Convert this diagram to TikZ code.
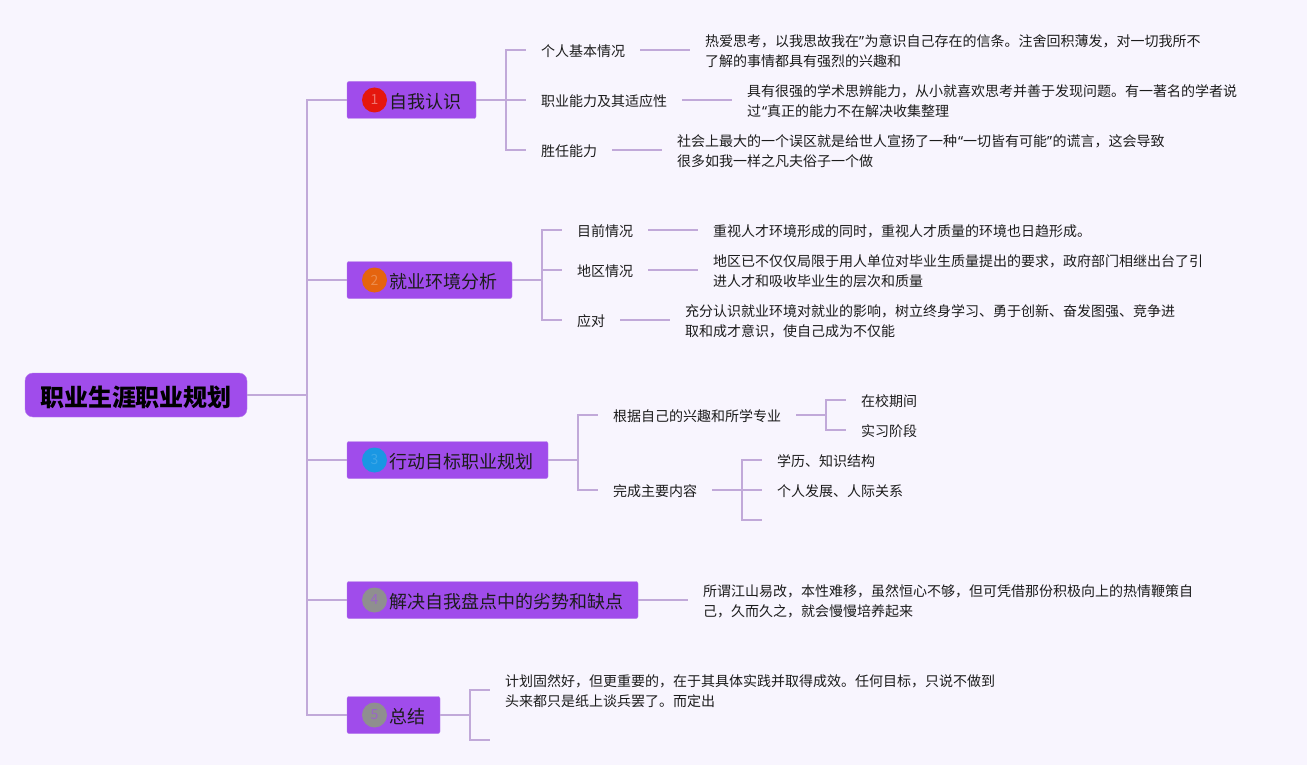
\documentclass[tikz,border=0pt]{standalone}
\usepackage{fontspec}
\setmainfont{Noto Sans CJK SC}
\newfontfamily\quotefont{Noto Sans}
\usetikzlibrary{positioning}

\definecolor{pagebg}{HTML}{F8F5FE}
\definecolor{boxfill}{HTML}{A04CEB}
\definecolor{boxedge}{HTML}{B67CEC}
\definecolor{linkcol}{HTML}{C1A9D9}
\definecolor{inkcol}{HTML}{1C1C1C}
\definecolor{badgered}{HTML}{E5170E}
\definecolor{badgeorange}{HTML}{E5640F}
\definecolor{badgeblue}{HTML}{1A97E3}
\definecolor{badgegray}{HTML}{8F8F8F}

\newcommand{\qopen}{{\kern1pt\quotefont “}}
\newcommand{\qclose}{{\quotefont ”\kern0.5pt}}

\begin{document}
\begin{tikzpicture}[x=1pt,y=-1pt,outer sep=0pt,node distance=50pt,
                    root/.style={rectangle, rounded corners=8pt, fill=boxfill, draw=boxedge, text=black, font=\fontsize{24}{28}\selectfont\bfseries, minimum width=222pt, minimum height=44pt, execute at begin node={\rule{0pt}{24.5pt}}},
                    branch/.style={rectangle, rounded corners=2pt, fill=boxfill, draw=boxedge, text=inkcol, anchor=west, font=\fontsize{18}{22}\selectfont, minimum height=37pt, inner xsep=15pt, execute at begin node={\rule{0pt}{18pt}}},
                    badge/.style={circle, minimum size=25pt, inner sep=0pt, font=\fontsize{14}{16}\selectfont},
                    item/.style={rectangle, text=inkcol, font=\fontsize{14}{20}\selectfont, inner xsep=15pt, inner ysep=0pt, execute at begin node={\rule{0pt}{14.5pt}}},
                    note/.style={rectangle, text=inkcol, font=\fontsize{14}{20}\selectfont, inner xsep=15pt, inner ysep=0pt, align=left, yshift=-1pt},
                    link/.style={draw=linkcol, line width=1.5pt}]
  % Background
  \fill[pagebg] (0,0) rectangle (1307,765);

  % Nodes
  \node[root] (plan) at (136,395) {职业生涯职业规划};
  \node[branch] (self) at (347,100) {\hspace*{27pt}自我认识};
  \node[branch] (env) at (347,280) {\hspace*{27pt}就业环境分析};
  \node[branch] (goal) at (347,460) {\hspace*{27pt}行动目标职业规划};
  \node[branch] (weak) at (347,600) {\hspace*{27pt}解决自我盘点中的劣势和缺点};
  \node[branch] (summary) at (347,715) {\hspace*{27pt}总结};

  \node[badge, fill=badgered, text=badgered!60!white] (one) at ([xshift=27.5pt]self.west) {1};
  \node[badge, fill=badgeorange, text=badgeorange!75!white] (two) at ([xshift=27.5pt]env.west) {2};
  \node[badge, fill=badgeblue, text=badgeblue!85!white] (three) at ([xshift=27.5pt]goal.west) {3};
  \node[badge, fill=badgegray, text=boxfill!60!badgegray] (four) at ([xshift=27.5pt]weak.west) {4};
  \node[badge, fill=badgegray, text=boxfill!60!badgegray] (five) at ([xshift=27.5pt]summary.west) {5};

  % First branch
  \node[item, right=50pt of self, yshift=50pt] (basic) {个人基本情况};
  \node[item, right=50pt of self] (skill) {职业能力及其适应性};
  \node[item, right=50pt of self, yshift=-50pt] (fit) {胜任能力};
  \node[note, right=50pt of basic] (basicnote) {热爱思考，以我思故我在\qclose 为意识自己存在的信条。注舍回积薄发，对一切我所不\\了解的事情都具有强烈的兴趣和};
  \node[note, right=50pt of skill] (skillnote) {具有很强的学术思辨能力，从小就喜欢思考并善于发现问题。有一著名的学者说\\过\qopen 真正的能力不在解决收集整理};
  \node[note, right=50pt of fit] (fitnote) {社会上最大的一个误区就是给世人宣扬了一种\qopen 一切皆有可能\qclose 的谎言，这会导致\\很多如我一样之凡夫俗子一个做};

  % Second branch
  \node[item, right=50pt of env, yshift=50pt] (now) {目前情况};
  \node[item, right=50pt of env, yshift=10pt] (area) {地区情况};
  \node[item, right=50pt of env, yshift=-40pt] (cope) {应对};
  \node[item, right=50pt of now] (nownote) {重视人才环境形成的同时，重视人才质量的环境也日趋形成。};
  \node[note, right=50pt of area] (areanote) {地区已不仅仅局限于用人单位对毕业生质量提出的要求，政府部门相继出台了引\\进人才和吸收毕业生的层次和质量};
  \node[note, right=50pt of cope] (copenote) {充分认识就业环境对就业的影响，树立终身学习、勇于创新、奋发图强、竞争进\\取和成才意识，使自己成为不仅能};

  % Third branch
  \node[item, right=50pt of goal, yshift=45pt] (major) {根据自己的兴趣和所学专业};
  \node[item, right=50pt of goal, yshift=-30pt] (content) {完成主要内容};
  \node[item, right=50pt of major, yshift=15pt] (school) {在校期间};
  \node[item, right=50pt of major, yshift=-15pt] (intern) {实习阶段};
  \node[item, right=50pt of content, yshift=30pt] (know) {学历、知识结构};
  \node[item, right=50pt of content] (people) {个人发展、人际关系};

  % Last branches
  \node[note, right=50pt of weak] (weaknote) {所谓江山易改，本性难移，虽然恒心不够，但可凭借那份积极向上的热情鞭策自\\己，久而久之，就会慢慢培养起来};
  \node[note, right=50pt of summary, yshift=25pt] (sumnote) {计划固然好，但更重要的，在于其具体实践并取得成效。任何目标，只说不做到\\头来都只是纸上谈兵罢了。而定出};

  % Joints
  \coordinate (trunk) at (307,395);
  \coordinate (selfj) at ([xshift=30pt]self.east);
  \coordinate (envj) at ([xshift=30pt]env.east);
  \coordinate (goalj) at ([xshift=30pt]goal.east);
  \coordinate (majorj) at ([xshift=30pt]major.east);
  \coordinate (contentj) at ([xshift=30pt]content.east);
  \coordinate (sumj) at ([xshift=30pt]summary.east);
  \coordinate (contentend) at ([xshift=20pt,yshift=-30pt]contentj);
  \coordinate (sumend) at ([xshift=20pt,yshift=-25pt]sumj);

  % Edges
  \draw[link] (plan.east) -- (trunk);
  \foreach \b in {self,env,goal,weak,summary}
    \draw[link] (trunk) |- (\b.west);
  \draw[link] (self.east) -- (selfj);
  \foreach \b in {basic,skill,fit}
    \draw[link] (selfj) |- (\b.west);
  \draw[link] (env.east) -- (envj);
  \foreach \b in {now,area,cope}
    \draw[link] (envj) |- (\b.west);
  \draw[link] (goal.east) -- (goalj);
  \foreach \b in {major,content}
    \draw[link] (goalj) |- (\b.west);
  \draw[link] (major.east) -- (majorj);
  \foreach \b in {school,intern}
    \draw[link] (majorj) |- (\b.west);
  \draw[link] (content.east) -- (contentj);
  \foreach \b in {know,people}
    \draw[link] (contentj) |- (\b.west);
  \draw[link] (contentj) |- (contentend);
  \foreach \a/\b in {basic/basicnote,skill/skillnote,fit/fitnote,area/areanote,cope/copenote,weak/weaknote}
    \draw[link] (\a.east) -- (\a.east -| \b.west);
  \draw[link] (now) -- (nownote);
  \draw[link] (summary.east) -- (sumj);
  \draw[link] (sumj) |- ([yshift=1pt]sumnote.west);
  \draw[link] (sumj) |- (sumend);
\end{tikzpicture}
\end{document}
